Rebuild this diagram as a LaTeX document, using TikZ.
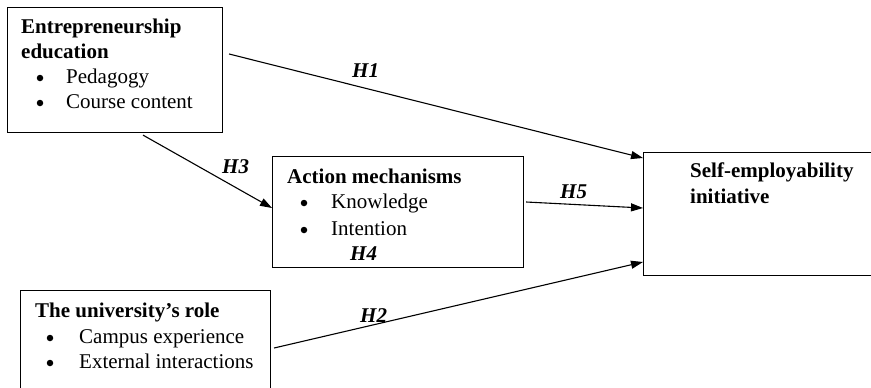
\documentclass[tikz,border=0pt]{standalone}
\usepackage{fontspec}
\setmainfont{Liberation Serif}
\usetikzlibrary{arrows.meta,calc}
\tikzset{
  box/.style={draw, line width=1.1pt, rectangle, inner sep=0pt, anchor=north west},
  txt/.style={inner sep=0pt, anchor=base west, font=\fontsize{21}{25}\selectfont},
  ttl/.style={txt, font=\fontsize{21}{25}\selectfont\bfseries},
  bul/.style={circle, fill, inner sep=0pt, minimum size=6.5pt},
  hyp/.style={txt, font=\fontsize{21}{25}\selectfont\bfseries\itshape},
  conn/.style={line width=1.1pt, -{Triangle[length=12pt,width=8pt]}}
}
\begin{document}
\begin{tikzpicture}[x=1pt,y=-1pt]
\useasboundingbox (0,0) rectangle (871,388);
\clip (0,0) rectangle (871,388);
\fill[white] (0,0) rectangle (871,388);
% boxes
\node[box, minimum width=215pt, minimum height=125pt] (ee) at (7,7) {};
\node[box, minimum width=251pt, minimum height=111pt] (am) at (272,156) {};
\node[box, minimum width=240pt, minimum height=123pt] (se) at (643,152) {};
\node[box, minimum width=250pt, minimum height=120pt] (ur) at (20,290) {};
% box 1 text
\node[ttl] (t11) at (21,33) {Entrepreneurship};
\node[ttl] (t12) at (21,58) {education};
\node[bul] (b11) at (40,78) {};
\node[txt] (t13) at (66,83) {Pedagogy};
\node[bul] (b12) at (40,103) {};
\node[txt] (t14) at (66,108) {Course content};
% action box text
\node[ttl] (t21) at (287,183) {Action mechanisms};
\node[bul] (b21) at (304,203) {};
\node[txt] (t22) at (331,208) {Knowledge};
\node[bul] (b22) at (304,230) {};
\node[txt] (t23) at (331,235) {Intention};
\node[hyp] (h4) at (350,260) {H4};
% self box text
\node[ttl] (t31) at (690,177) {Self-employability};
\node[ttl] (t32) at (690,203) {initiative};
% university box text
\node[ttl] (t41) at (35,317) {The university’s role};
\node[bul] (b41) at (50,338) {};
\node[txt] (t42) at (79,343) {Campus experience};
\node[bul] (b42) at (50,363) {};
\node[txt] (t43) at (79,368) {External interactions};
% connectors
\draw[conn] ($(ee.north east)+(6,47)$) -- ($(se.north west)+(0,6)$);
\draw[conn] ($(ee.south west)+(136,2)$) -- ($(am.north west)+(0,52)$);
\draw[conn] ($(am.north east)+(2,46)$) -- ($(se.north west)+(0,56)$);
\draw[conn] ($(ur.north east)+(3,58)$) -- ($(se.north west)+(0,110)$);
% hypothesis labels
\node[hyp] (h1) at (352,77) {H1};
\node[hyp] (h3) at (222,173) {H3};
\node[hyp] (h5) at (560,198) {H5};
\node[hyp] (h2) at (360,322) {H2};
\end{tikzpicture}
\end{document}
